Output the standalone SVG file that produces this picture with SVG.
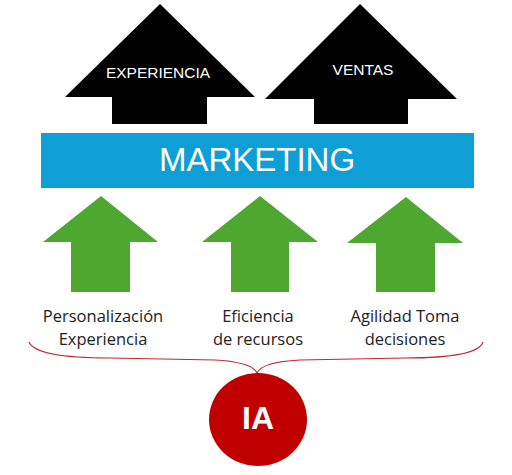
<svg xmlns="http://www.w3.org/2000/svg" width="512" height="475" viewBox="0 0 512 475">
<style>
.blk{fill:#000}
.grn{fill:#4EA72E}
.wt{fill:#fff;font-family:"Liberation Sans",Arial,sans-serif;text-anchor:middle}
.lbl{fill:#222;font-family:"Open Sans","Noto Sans",sans-serif;font-size:16.5px;text-anchor:middle}
</style>
<rect width="512" height="475" fill="#fff"/>
<g id="experiencia">
<polygon class="blk" points="160,4 255,97 207,97 207,124 112,124 112,97 65,97"/>
<text class="wt" x="158" y="78" font-size="15.5">EXPERIENCIA</text>
</g>
<g id="ventas">
<polygon class="blk" points="360,4 457,99 408,99 408,124 314,124 314,99 265,99"/>
<text class="wt" x="363" y="75" font-size="15.5">VENTAS</text>
</g>
<g id="marketing">
<rect x="41" y="133" width="433" height="55" fill="#0E9FD6"/>
<text class="wt" x="257" y="171" font-size="33">MARKETING</text>
</g>
<g id="personalizacion">
<polygon class="grn" points="101,196 158,242 130,242 130,292 71,292 71,242 43,242"/>
<text class="lbl" x="103" y="322">Personalización</text>
<text class="lbl" x="103" y="345">Experiencia</text>
</g>
<g id="eficiencia">
<polygon class="grn" points="260,196 318,242 289,242 289,292 231,292 231,242 202,242"/>
<text class="lbl" x="258" y="322">Eficiencia</text>
<text class="lbl" x="258" y="345">de recursos</text>
</g>
<g id="agilidad">
<polygon class="grn" points="406,197 463,243 435,243 435,292 376,292 376,243 347,243"/>
<text class="lbl" x="405" y="322">Agilidad Toma</text>
<text class="lbl" x="405" y="345">decisiones</text>
</g>
<g id="connectors">
<path d="M29,342 Q36,358 110,358 L215,360 Q252,362 257,373 Q262,362 300,360 L405,358 Q478,358 483,342" fill="none" stroke="#C0282D" stroke-width="1.2"/>
</g>
<g id="ia">
<ellipse cx="258" cy="419.5" rx="49" ry="46.5" fill="#C00000"/>
<text class="wt" x="258" y="429" font-size="32" font-weight="bold">IA</text>
</g>
</svg>
